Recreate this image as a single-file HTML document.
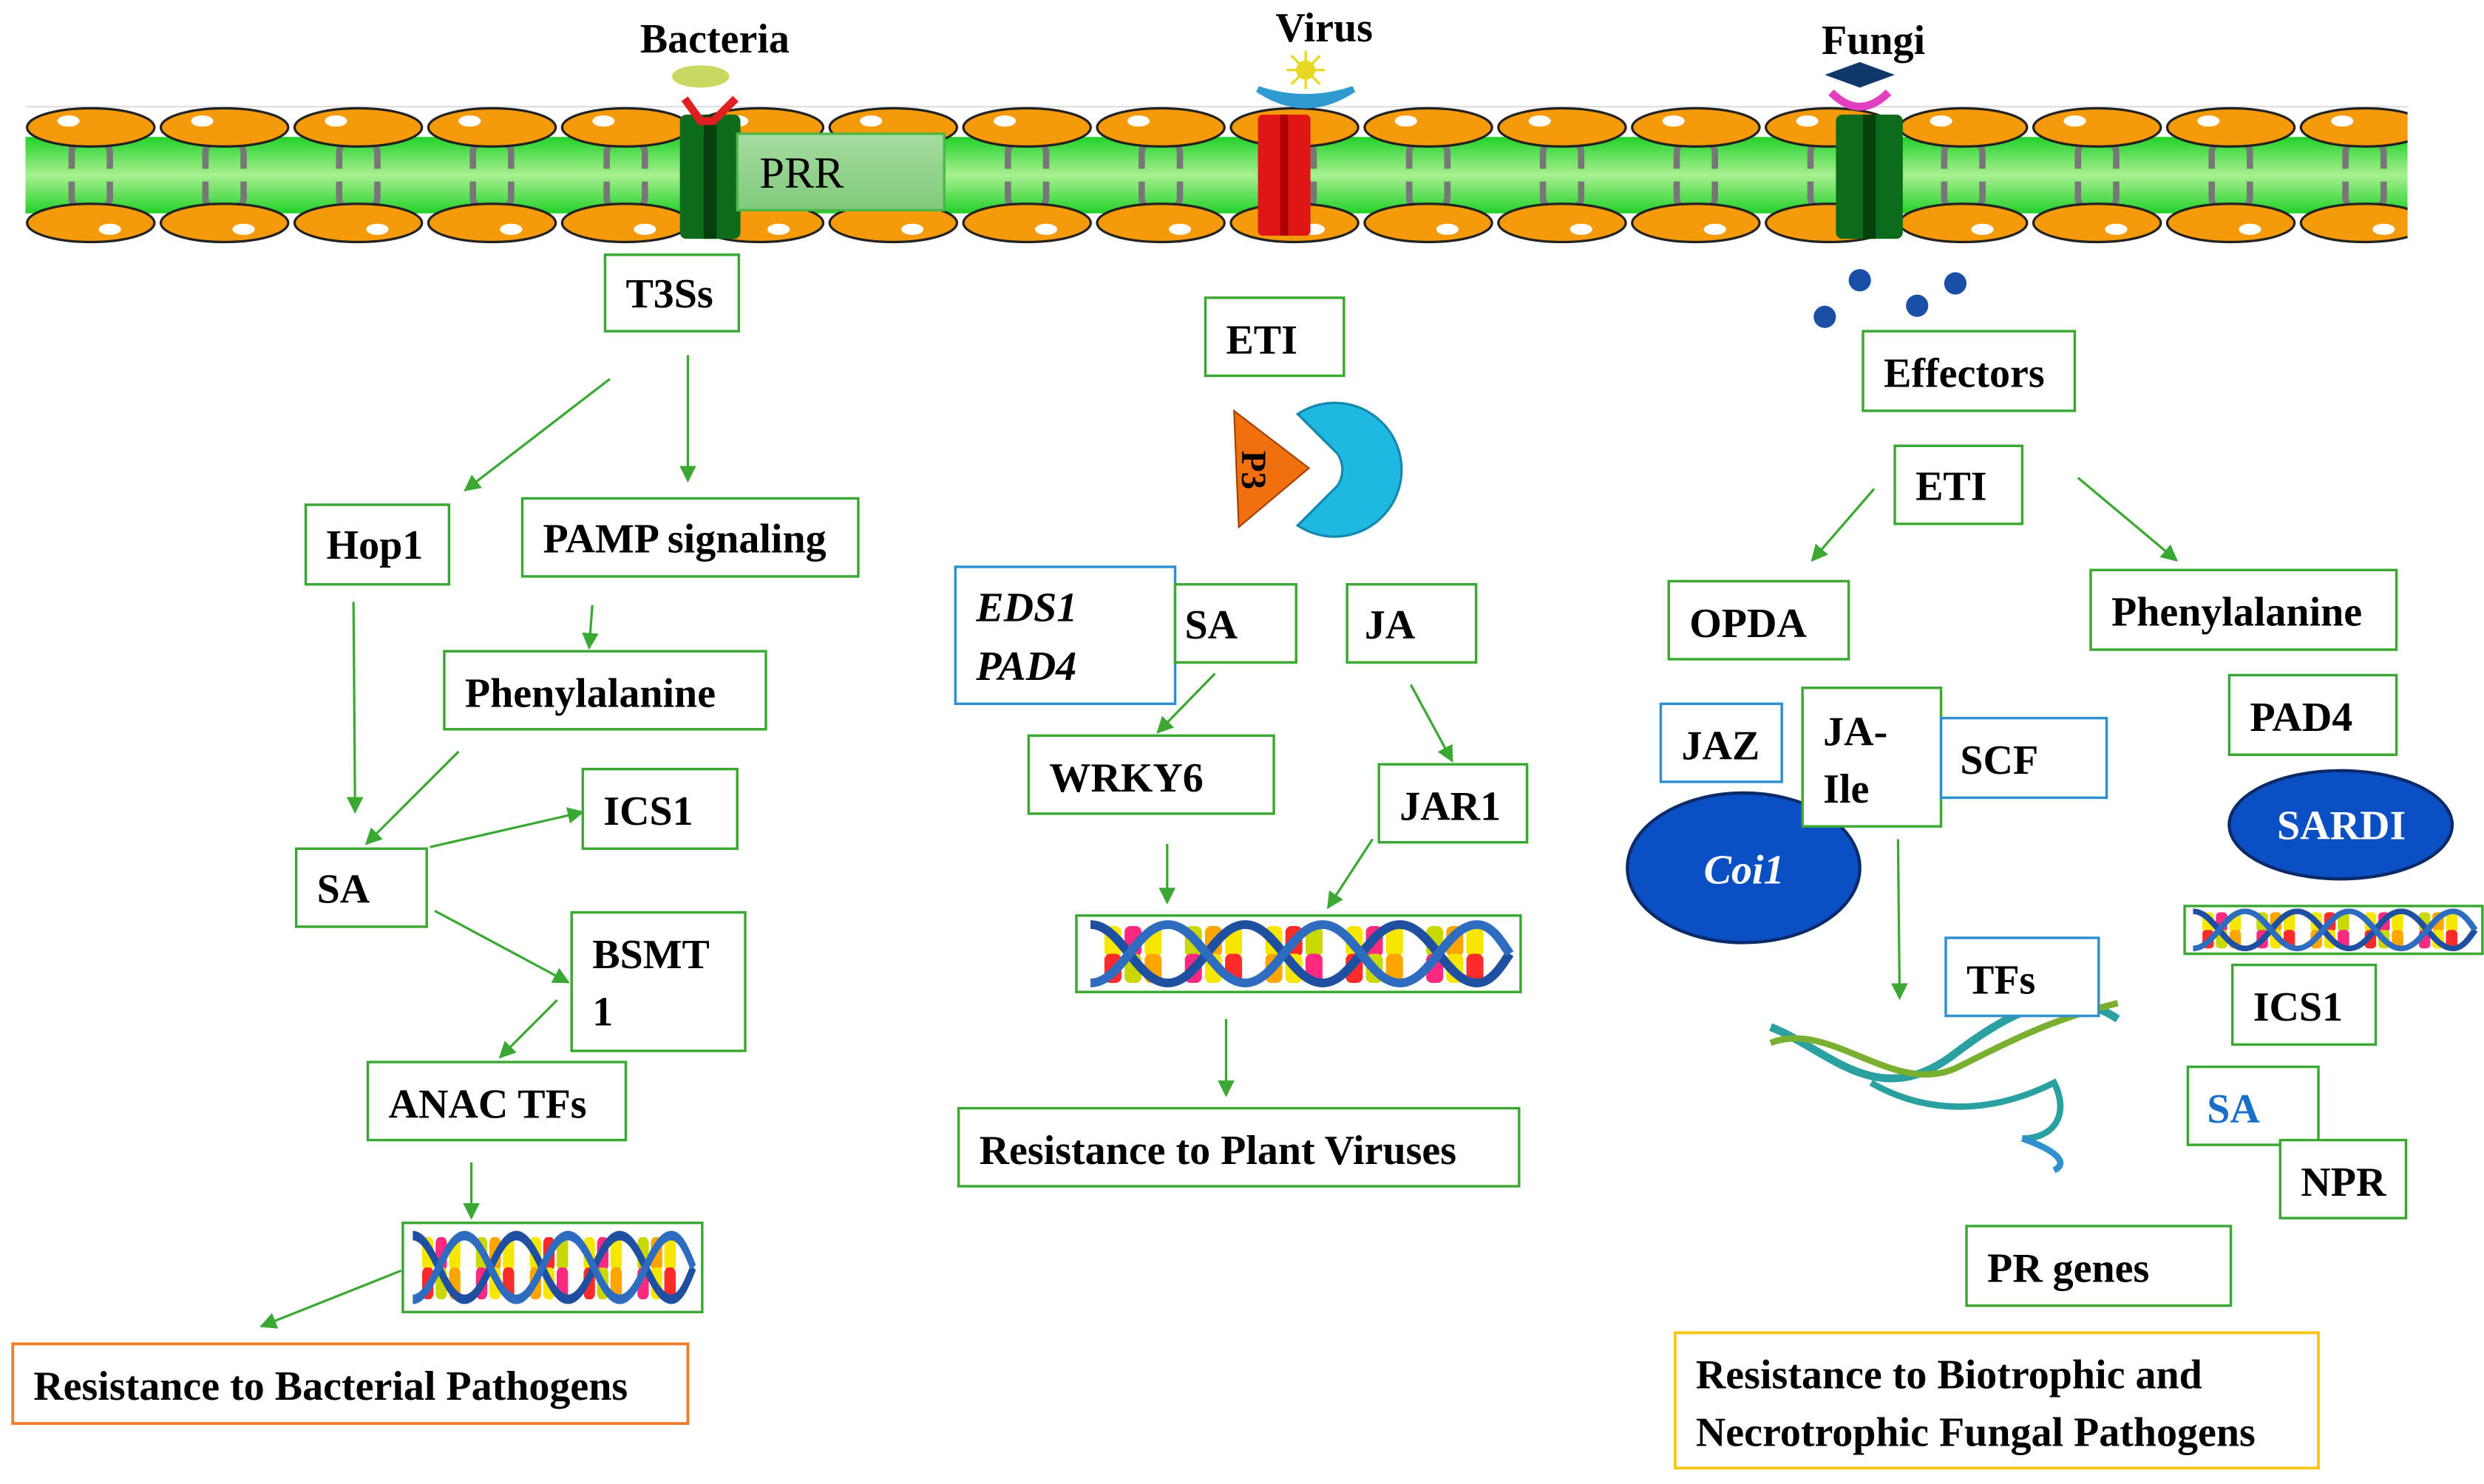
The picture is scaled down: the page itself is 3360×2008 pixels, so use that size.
<!DOCTYPE html>
<html><head><meta charset="utf-8"><style>
html,body{margin:0;padding:0;background:#fff;}
svg{display:block;}
text{font-family:"Liberation Serif",serif;font-weight:bold;font-size:26px;fill:#000;}
.g{fill:#fff;stroke:#3aa832;stroke-width:1.6;}
.b{fill:#fff;stroke:#2f8fcf;stroke-width:1.6;}
.a{stroke:#3aa832;stroke-width:1.5;fill:none;marker-end:url(#ah);}
</style></head><body>
<svg id="s" width="3360" height="2008" viewBox="0 0 1560 932" preserveAspectRatio="none" xmlns="http://www.w3.org/2000/svg">
<defs>
<marker id="ah" viewBox="0 0 10 10" refX="9" refY="5" markerWidth="7" markerHeight="7" orient="auto"><path d="M0,0L10,5L0,10z" fill="#3aa832"/></marker>
<linearGradient id="mg" x1="0" y1="0" x2="0" y2="1"><stop offset="0" stop-color="#22d12a"/><stop offset="0.5" stop-color="#a8f090"/><stop offset="1" stop-color="#22d12a"/></linearGradient>
<linearGradient id="prr" x1="0" y1="0" x2="0" y2="1"><stop offset="0" stop-color="#a6dba0"/><stop offset="1" stop-color="#7fca7a"/></linearGradient>
<clipPath id="mc"><rect x="16" y="60" width="1496" height="95"/></clipPath>
<symbol id="dna" viewBox="0 0 280 48" preserveAspectRatio="none">
<g id="bars"></g>
<path d="M5,4 C25,4 35,44 55,44 C75,44 85,4 105,4 C125,4 135,44 155,44 C175,44 185,4 205,4 C225,4 235,44 255,44 C265,44 272,30 276,24" stroke="#1f4fa0" stroke-width="6" fill="none"/>
<path d="M5,44 C25,44 35,4 55,4 C75,4 85,44 105,44 C125,44 135,4 155,4 C175,4 185,44 205,44 C225,44 235,4 255,4 C265,4 272,18 276,24" stroke="#2e6cc0" stroke-width="6" fill="none"/>
</symbol>
</defs>
<g id="mem" clip-path="url(#mc)">
<line x1="16" y1="67" x2="1512" y2="67" stroke="#ddd" stroke-width="1"/>
<rect x="16" y="86" width="1496" height="48" fill="url(#mg)"/>
</g>
<rect x="427" y="72" width="38" height="78" fill="#0d6b1c" rx="4"/>
<rect x="442" y="72" width="8" height="78" fill="#043f0c"/>
<rect x="790" y="72" width="33" height="76" fill="#e01515" rx="3"/>
<rect x="804" y="72" width="5" height="76" fill="#a00"/>
<rect x="1153" y="72" width="42" height="78" fill="#0d6b1c" rx="4"/>
<rect x="1170" y="72" width="8" height="78" fill="#043f0c"/>
<rect x="463" y="84" width="130" height="48" fill="url(#prr)" stroke="#4cb548" stroke-width="1.5"/>
<text x="477" y="118" style="font-weight:normal;font-size:28px">PRR</text>
<text x="402" y="33">Bacteria</text>
<ellipse cx="440" cy="48" rx="18" ry="7" fill="#c8d860"/>
<path d="M430,62 L440,76 L448,76 L462,62" stroke="#e02020" stroke-width="5" fill="none"/>
<text x="801" y="26">Virus</text>
<circle cx="820" cy="44" r="6" fill="#e8d820"/>
<path d="M808,44 L832,44 M820,32 L820,56 M811,35 L829,53 M829,35 L811,53" stroke="#e8d820" stroke-width="1.5"/>
<path d="M790,56 Q820,76 850,56 Q820,66 790,56z" fill="#2f9ad0" stroke="#2f9ad0" stroke-width="4"/>
<text x="1144" y="34">Fungi</text>
<path d="M1146,47 L1168,39 L1190,47 L1168,55z" fill="#10386a"/>
<path d="M1150,58 Q1168,76 1186,58" stroke="#e040c0" stroke-width="5" fill="none"/>
<g fill="#1a4fa8">
<circle cx="1146" cy="199" r="7"/><circle cx="1168" cy="176" r="7"/><circle cx="1204" cy="192" r="7"/><circle cx="1228" cy="178" r="7"/>
</g>
<rect class="g" x="380" y="160" width="84" height="48"/><text x="393" y="193">T3Ss</text>
<rect class="g" x="192" y="317" width="90" height="50"/><text x="205" y="351">Hop1</text>
<rect class="g" x="328" y="313" width="211" height="49"/><text x="341" y="347">PAMP signaling</text>
<rect class="g" x="279" y="409" width="202" height="49"/><text x="292" y="444">Phenylalanine</text>
<rect class="g" x="366" y="483" width="97" height="50"/><text x="379" y="518">ICS1</text>
<rect class="g" x="186" y="533" width="82" height="49"/><text x="199" y="567">SA</text>
<rect class="g" x="359" y="573" width="109" height="87"/><text x="372" y="608">BSMT</text><text x="372" y="644">1</text>
<rect class="g" x="231" y="667" width="162" height="49"/><text x="244" y="702">ANAC TFs</text>
<rect class="g" x="253" y="768" width="188" height="56"/><use href="#dna" x="256" y="772" width="182" height="48"/>
<rect x="8" y="844" width="424" height="50" fill="#fff" stroke="#f07d2a" stroke-width="1.8"/><text x="21" y="879">Resistance to Bacterial Pathogens</text>
<rect class="g" x="757" y="187" width="87" height="49"/><text x="770" y="222">ETI</text>
<path d="M815,260 A42,42 0 1,1 815,330 L840,305 A18,18 0 0,0 840,285z" fill="#1fb8e0" stroke="#1488b0" stroke-width="1.5"/>
<path d="M775,258 L822,294 L778,331z" fill="#f07010" stroke="#a04000" stroke-width="1"/>
<text x="0" y="0" transform="translate(780,283) rotate(90)" style="font-size:22px">P3</text>
<rect class="b" x="600" y="356" width="138" height="86"/>
<text x="613" y="390" style="font-style:italic">EDS1</text><text x="613" y="427" style="font-style:italic">PAD4</text>
<rect class="g" x="738" y="367" width="76" height="49"/><text x="744" y="401">SA</text>
<rect class="g" x="846" y="367" width="81" height="49"/><text x="857" y="401">JA</text>
<rect class="g" x="646" y="462" width="154" height="49"/><text x="659" y="497">WRKY6</text>
<rect class="g" x="866" y="480" width="93" height="49"/><text x="879" y="515">JAR1</text>
<rect class="g" x="676" y="575" width="279" height="48"/><use href="#dna" x="680" y="577" width="272" height="44"/>
<rect class="g" x="602" y="696" width="352" height="49"/><text x="615" y="731">Resistance to Plant Viruses</text>
<rect class="g" x="1170" y="208" width="133" height="50"/><text x="1183" y="243">Effectors</text>
<rect class="g" x="1190" y="280" width="80" height="49"/><text x="1203" y="314">ETI</text>
<rect class="g" x="1048" y="365" width="113" height="49"/><text x="1061" y="400">OPDA</text>
<rect class="g" x="1313" y="358" width="192" height="50"/><text x="1326" y="393">Phenylalanine</text>
<rect class="b" x="1043" y="442" width="76" height="49"/><text x="1056" y="477">JAZ</text>
<ellipse cx="1095" cy="545" rx="73" ry="47" fill="#0b4fc4" stroke="#0a2a6a" stroke-width="2"/>
<text x="1070" y="555" style="fill:#fff;font-style:italic">Coi1</text>
<rect class="g" x="1132" y="432" width="87" height="87"/><text x="1145" y="468">JA-</text><text x="1145" y="504">Ile</text>
<rect class="b" x="1219" y="451" width="104" height="50"/><text x="1231" y="486">SCF</text>
<rect class="g" x="1400" y="424" width="105" height="50"/><text x="1413" y="459">PAD4</text>
<ellipse cx="1470" cy="518" rx="70" ry="34" fill="#0b4fc4" stroke="#0a2a6a" stroke-width="2"/>
<text x="1430" y="527" style="fill:#fff">SARDI</text>
<rect class="g" x="1372" y="569" width="187" height="30"/><use href="#dna" x="1374" y="570" width="183" height="28"/>
<rect class="g" x="1402" y="606" width="90" height="50"/><text x="1415" y="641">ICS1</text>
<rect class="g" x="1374" y="670" width="82" height="49"/><text x="1386" y="705" style="fill:#1a6fc8">SA</text>
<rect class="g" x="1432" y="716" width="79" height="49"/><text x="1445" y="751">NPR</text>
<path d="M1112,645 C1150,660 1180,700 1230,660 C1270,630 1300,620 1330,640" stroke="#2aa0a0" stroke-width="5" fill="none"/>
<path d="M1112,655 C1150,640 1190,690 1230,670 C1270,650 1290,640 1330,630" stroke="#7ab030" stroke-width="4" fill="none"/>
<path d="M1175,680 C1210,700 1250,700 1290,680 C1300,700 1290,715 1270,715" stroke="#2aa0a0" stroke-width="4" fill="none"/>
<path d="M1270,715 C1290,722 1300,730 1290,735" stroke="#3090d0" stroke-width="4" fill="none"/>
<rect class="b" x="1222" y="589" width="96" height="49"/><text x="1235" y="624">TFs</text>
<rect class="g" x="1235" y="770" width="166" height="50"/><text x="1248" y="805">PR genes</text>
<rect x="1052" y="837" width="404" height="85" fill="#fff" stroke="#f5c518" stroke-width="1.8"/>
<text x="1065" y="872">Resistance  to Biotrophic and</text><text x="1065" y="908">Necrotrophic Fungal Pathogens</text>
<line class="a" x1="383" y1="238" x2="292" y2="308"/>
<line class="a" x1="432" y1="223" x2="432" y2="302"/>
<line class="a" x1="372" y1="380" x2="370" y2="407"/>
<line class="a" x1="222" y1="378" x2="223" y2="510"/>
<line class="a" x1="288" y1="472" x2="230" y2="530"/>
<line class="a" x1="270" y1="532" x2="366" y2="510"/>
<line class="a" x1="273" y1="572" x2="357" y2="617"/>
<line class="a" x1="350" y1="628" x2="314" y2="664"/>
<line class="a" x1="296" y1="730" x2="296" y2="765"/>
<line class="a" x1="252" y1="798" x2="164" y2="833"/>
<line class="a" x1="763" y1="423" x2="727" y2="460"/>
<line class="a" x1="886" y1="430" x2="912" y2="478"/>
<line class="a" x1="733" y1="530" x2="733" y2="567"/>
<line class="a" x1="862" y1="527" x2="834" y2="570"/>
<line class="a" x1="770" y1="640" x2="770" y2="688"/>
<line class="a" x1="1177" y1="307" x2="1138" y2="352"/>
<line class="a" x1="1305" y1="300" x2="1367" y2="352"/>
<line class="a" x1="1192" y1="527" x2="1193" y2="627"/>
</svg>
<script>
var NS="http://www.w3.org/2000/svg";
function el(t,a,p){var e=document.createElementNS(NS,t);for(var k in a)e.setAttribute(k,a[k]);p.appendChild(e);return e;}
var mem=document.getElementById("mem");
for(var x=57;x<1530;x+=84){
 el("path",{d:"M"+(x-12)+",106 L"+(x-12)+",96 Q"+(x-12)+",90 "+(x-6)+",90 L"+(x+6)+",90 Q"+(x+12)+",90 "+(x+12)+",96 L"+(x+12)+",106 M"+x+",90 L"+x+",84",stroke:"#777","stroke-width":4,fill:"none"},mem);
 el("path",{d:"M"+(x-12)+",114 L"+(x-12)+",124 Q"+(x-12)+",130 "+(x-6)+",130 L"+(x+6)+",130 Q"+(x+12)+",130 "+(x+12)+",124 L"+(x+12)+",114 M"+x+",130 L"+x+",137",stroke:"#777","stroke-width":4,fill:"none"},mem);
 el("ellipse",{cx:x,cy:80,rx:40,ry:12,fill:"#f59a0a",stroke:"#222","stroke-width":1.5},mem);
 el("ellipse",{cx:x-14,cy:76,rx:7,ry:3.5,fill:"#fff"},mem);
 el("ellipse",{cx:x,cy:140,rx:40,ry:12,fill:"#f59a0a",stroke:"#222","stroke-width":1.5},mem);
 el("ellipse",{cx:x+12,cy:144,rx:7,ry:3.5,fill:"#fff"},mem);
}
var bars=document.getElementById("bars");
var cols=["#f7e600","#ff2a80","#f7e600","#ff2a2a","#c8d800","#ffa500"];
for(var i=0;i<20;i++){var bx=14+i*13;if((i%4)==3)continue;
 el("rect",{x:bx,y:5,width:11,height:21,rx:4,fill:cols[i%6]},bars);
 el("rect",{x:bx,y:24,width:11,height:20,rx:4,fill:cols[(i+3)%6]},bars);}
</script>
</body></html>
